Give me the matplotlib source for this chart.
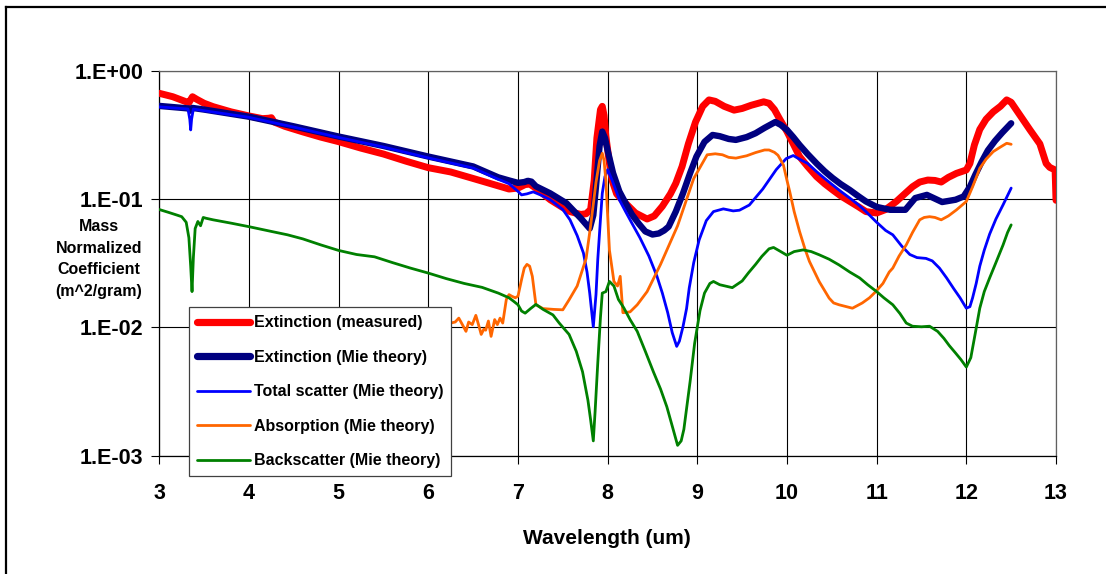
import numpy as np
import matplotlib
matplotlib.use("Agg")
import matplotlib.pyplot as plt
from matplotlib.lines import Line2D
from matplotlib.ticker import FixedLocator, FixedFormatter, NullLocator

plt.rcParams['font.family'] = ['Liberation Sans', 'DejaVu Sans']
plt.rcParams['font.weight'] = 'bold'

# ---- data -------------------------------------------------------------
ext_meas_wl = [3.00, 3.15, 3.30, 3.33, 3.37, 3.42, 3.50, 3.60, 3.80, 4.00, 4.15, 4.22, 4.25, 4.28,
               4.40, 4.60, 4.80, 5.00, 5.25, 5.50, 5.75, 6.00, 6.25, 6.50, 6.78, 6.90, 7.00, 7.08,
               7.13, 7.20, 7.36, 7.50, 7.58, 7.70, 7.76, 7.81, 7.85, 7.88, 7.92, 7.94, 7.96, 7.98,
               8.02, 8.05, 8.10, 8.16, 8.31, 8.44, 8.52, 8.61, 8.70, 8.76, 8.83, 8.90, 8.98, 9.06,
               9.13, 9.20, 9.30, 9.41, 9.50, 9.60, 9.74, 9.80, 9.86, 9.92, 10.00, 10.07, 10.14,
               10.23, 10.33, 10.42, 10.51, 10.60, 10.70, 10.80, 10.88, 11.00, 11.10, 11.22, 11.30,
               11.40, 11.48, 11.57, 11.65, 11.72, 11.80, 11.89, 12.00, 12.04, 12.09, 12.15, 12.22,
               12.30, 12.38, 12.45, 12.50, 12.60, 12.71, 12.82, 12.89, 12.93, 12.99, 13.00]
ext_meas = [0.67, 0.63, 0.575, 0.566, 0.63, 0.60, 0.56, 0.527, 0.48, 0.446, 0.425, 0.428, 0.432, 0.40,
            0.37, 0.335, 0.305, 0.281, 0.25, 0.225, 0.198, 0.176, 0.163, 0.145, 0.127, 0.12, 0.122,
            0.13, 0.131, 0.122, 0.099, 0.086, 0.080, 0.076, 0.077, 0.083, 0.14, 0.30, 0.50, 0.53,
            0.45, 0.31, 0.19, 0.14, 0.11, 0.099, 0.078, 0.070, 0.074, 0.088, 0.11, 0.133, 0.18,
            0.27, 0.40, 0.53, 0.595, 0.58, 0.53, 0.495, 0.51, 0.54, 0.575, 0.56, 0.50, 0.42, 0.337,
            0.27, 0.215, 0.18, 0.150, 0.132, 0.118, 0.106, 0.096, 0.087, 0.080, 0.078, 0.083,
            0.096, 0.108, 0.125, 0.136, 0.141, 0.14, 0.136, 0.148, 0.159, 0.169, 0.19, 0.265,
            0.35, 0.42, 0.48, 0.53, 0.595, 0.57, 0.45, 0.347, 0.27, 0.19, 0.177, 0.169, 0.098]

ext_mie_wl = [3.00, 3.33, 3.35, 3.37, 3.50, 4.00, 4.50, 5.00, 5.50, 6.00, 6.50, 6.78, 6.90, 7.00,
              7.07, 7.11, 7.15, 7.20, 7.36, 7.54, 7.70, 7.80, 7.84, 7.87, 7.91, 7.94, 7.97, 8.00,
              8.06, 8.13, 8.20, 8.27, 8.35, 8.42, 8.50, 8.57, 8.63, 8.68, 8.76, 8.84, 8.92, 8.99,
              9.08, 9.17, 9.25, 9.35, 9.43, 9.55, 9.65, 9.75, 9.87, 9.93, 10.00, 10.07, 10.14,
              10.23, 10.33, 10.42, 10.51, 10.60, 10.70, 10.80, 10.88, 11.00, 11.15, 11.32, 11.43,
              11.56, 11.73, 11.88, 11.97, 12.04, 12.10, 12.17, 12.24, 12.32, 12.40, 12.50]
ext_mie = [0.534, 0.51, 0.49, 0.515, 0.50, 0.44, 0.37, 0.308, 0.26, 0.215, 0.18, 0.148, 0.14,
           0.134, 0.136, 0.139, 0.137, 0.126, 0.111, 0.093, 0.071, 0.059, 0.075, 0.126, 0.26,
           0.337, 0.30, 0.24, 0.16, 0.115, 0.093, 0.076, 0.064, 0.056, 0.053, 0.054, 0.057,
           0.061, 0.08, 0.111, 0.16, 0.215, 0.28, 0.317, 0.31, 0.295, 0.29, 0.305, 0.327, 0.36,
           0.40, 0.38, 0.347, 0.305, 0.265, 0.225, 0.19, 0.165, 0.146, 0.131, 0.118, 0.105,
           0.096, 0.087, 0.0826, 0.0826, 0.102, 0.108, 0.095, 0.099, 0.105, 0.125, 0.155,
           0.195, 0.24, 0.285, 0.33, 0.391]

scat_wl = [3.00, 3.32, 3.34, 3.35, 3.36, 3.38, 3.50, 4.00, 4.50, 5.00, 5.50, 6.00, 6.50, 6.78,
           6.90, 7.00, 7.04, 7.10, 7.17, 7.25, 7.36, 7.50, 7.58, 7.66, 7.73, 7.77, 7.80, 7.84,
           7.87, 7.89, 7.92, 7.94, 7.97, 8.00, 8.05, 8.13, 8.20, 8.27, 8.36, 8.46, 8.55, 8.61,
           8.67, 8.72, 8.77, 8.80, 8.84, 8.88, 8.91, 8.96, 9.02, 9.10, 9.18, 9.29, 9.40, 9.47,
           9.58, 9.73, 9.88, 9.99, 10.07, 10.14, 10.23, 10.33, 10.42, 10.51, 10.60, 10.70,
           10.80, 10.88, 11.00, 11.10, 11.18, 11.28, 11.37, 11.45, 11.55, 11.62, 11.70, 11.78,
           11.86, 11.93, 12.00, 12.04, 12.07, 12.11, 12.15, 12.20, 12.26, 12.33, 12.41, 12.50]
scat = [0.525, 0.505, 0.42, 0.347, 0.42, 0.505, 0.49, 0.435, 0.365, 0.303, 0.255, 0.21, 0.175,
        0.143, 0.132, 0.115, 0.108, 0.11, 0.114, 0.108, 0.099, 0.083, 0.069, 0.052, 0.038, 0.027,
        0.0185, 0.0101, 0.018, 0.034, 0.07, 0.111, 0.15, 0.17, 0.14, 0.099, 0.08, 0.065, 0.05,
        0.036, 0.025, 0.0185, 0.013, 0.0091, 0.0071, 0.0078, 0.0101, 0.014, 0.0203, 0.032, 0.048,
        0.068, 0.08, 0.084, 0.081, 0.082, 0.09, 0.12, 0.17, 0.207, 0.219, 0.205, 0.19, 0.164,
        0.145, 0.129, 0.115, 0.102, 0.09, 0.080, 0.066, 0.057, 0.0527, 0.043, 0.037, 0.035,
        0.0345, 0.033, 0.029, 0.0243, 0.02, 0.017, 0.0141, 0.0145, 0.017, 0.022, 0.030, 0.04,
        0.0534, 0.07, 0.0904, 0.122]

absn_wl = [6.25, 6.30, 6.34, 6.38, 6.42, 6.45, 6.49, 6.53, 6.56, 6.59, 6.62, 6.64, 6.67, 6.70,
           6.74, 6.77, 6.80, 6.83, 6.87, 6.90, 6.93, 6.97, 7.00, 7.04, 7.07, 7.10, 7.13, 7.16,
           7.20, 7.28, 7.40, 7.50, 7.57, 7.66, 7.76, 7.81, 7.87, 7.91, 7.94, 7.96, 7.98, 8.02,
           8.07, 8.11, 8.14, 8.17, 8.25, 8.33, 8.44, 8.59, 8.78, 8.96, 9.11, 9.20, 9.28, 9.35,
           9.43, 9.55, 9.65, 9.75, 9.80, 9.86, 9.90, 9.96, 10.00, 10.03, 10.08, 10.14, 10.20,
           10.25, 10.36, 10.47, 10.52, 10.58, 10.73, 10.84, 10.92, 10.99, 11.07, 11.14, 11.18,
           11.25, 11.33, 11.40, 11.48, 11.53, 11.59, 11.65, 11.72, 11.80, 11.89, 12.00, 12.07,
           12.15, 12.22, 12.30, 12.38, 12.45, 12.50]
absn = [0.0108, 0.011, 0.0118, 0.0105, 0.0093, 0.011, 0.0105, 0.0124, 0.0105, 0.0088, 0.0097,
        0.0095, 0.0112, 0.0085, 0.0115, 0.0105, 0.0118, 0.0108, 0.0165, 0.018, 0.0175, 0.017,
        0.0175, 0.0236, 0.029, 0.031, 0.030, 0.025, 0.0150, 0.014, 0.0138, 0.0137, 0.0164,
        0.021, 0.0345, 0.062, 0.135, 0.2, 0.228, 0.2, 0.14, 0.04, 0.0228, 0.021, 0.025, 0.013,
        0.0132, 0.015, 0.019, 0.031, 0.062, 0.145, 0.222, 0.226, 0.222, 0.212, 0.209, 0.218,
        0.231, 0.242, 0.242, 0.232, 0.22, 0.185, 0.14, 0.115, 0.08, 0.056, 0.041, 0.0327,
        0.0227, 0.0169, 0.0155, 0.015, 0.0141, 0.0155, 0.017, 0.019, 0.022, 0.027, 0.029,
        0.036, 0.044, 0.055, 0.069, 0.072, 0.073, 0.072, 0.069, 0.074, 0.0825, 0.096, 0.125,
        0.174, 0.205, 0.235, 0.255, 0.273, 0.268]

back_wl = [3.00, 3.10, 3.20, 3.25, 3.30, 3.33, 3.35, 3.365, 3.38, 3.40, 3.43, 3.46, 3.49, 3.52,
           3.60, 3.80, 4.00, 4.25, 4.43, 4.60, 4.80, 5.00, 5.20, 5.40, 5.60, 5.80, 6.00, 6.20,
           6.40, 6.60, 6.78, 6.90, 6.95, 7.00, 7.04, 7.08, 7.14, 7.20, 7.28, 7.39, 7.46, 7.57,
           7.65, 7.72, 7.78, 7.81, 7.84, 7.86, 7.89, 7.92, 7.94, 7.98, 8.02, 8.07, 8.12, 8.18,
           8.25, 8.33, 8.42, 8.51, 8.59, 8.66, 8.72, 8.78, 8.82, 8.85, 8.92, 8.97, 9.03, 9.08,
           9.14, 9.18, 9.25, 9.39, 9.50, 9.57, 9.65, 9.72, 9.80, 9.85, 9.93, 10.00, 10.08, 10.18,
           10.27, 10.36, 10.47, 10.58, 10.70, 10.81, 10.90, 11.00, 11.08, 11.18, 11.26, 11.33,
           11.40, 11.50, 11.59, 11.68, 11.75, 11.81, 11.88, 11.94, 12.00, 12.05, 12.10, 12.15,
           12.20, 12.26, 12.33, 12.41, 12.46, 12.50]
back = [0.083, 0.079, 0.075, 0.073, 0.066, 0.050, 0.03, 0.019, 0.035, 0.059, 0.067, 0.062, 0.072,
        0.071, 0.069, 0.065, 0.061, 0.056, 0.0527, 0.049, 0.044, 0.0398, 0.037, 0.0355, 0.032,
        0.029, 0.0265, 0.024, 0.022, 0.0205, 0.0185, 0.017, 0.016, 0.015, 0.0134, 0.0129, 0.014,
        0.0151, 0.0138, 0.0125, 0.0108, 0.0088, 0.0065, 0.0045, 0.0027, 0.0019, 0.0013, 0.0022,
        0.0053, 0.012, 0.0185, 0.019, 0.0228, 0.021, 0.0165, 0.0142, 0.0115, 0.0093, 0.0065,
        0.0045, 0.0033, 0.0024, 0.0017, 0.0012, 0.0013, 0.0016, 0.0038, 0.0075, 0.0135,
        0.0185, 0.022, 0.0228, 0.0215, 0.0204, 0.023, 0.0266, 0.031, 0.0358, 0.041, 0.042,
        0.039, 0.0365, 0.039, 0.0402, 0.039, 0.0368, 0.034, 0.0307, 0.027, 0.0243, 0.0215,
        0.019, 0.017, 0.015, 0.0128, 0.0108, 0.0102, 0.0101, 0.0102, 0.0093, 0.0082, 0.0072,
        0.0063, 0.0056, 0.0049, 0.0058, 0.009, 0.0141, 0.019, 0.0243, 0.032, 0.044, 0.055, 0.063]

series_labels = ["Extinction (measured)", "Extinction (Mie theory)", "Total scatter (Mie theory)",
                 "Absorption (Mie theory)", "Backscatter (Mie theory)"]
x_ticks = [3, 4, 5, 6, 7, 8, 9, 10, 11, 12, 13]
y_ticks = [1e-3, 1e-2, 1e-1, 1e0]
y_tick_labels = ["1.E-03", "1.E-02", "1.E-01", "1.E+00"]

# ---- figure -----------------------------------------------------------
W, H = 1106, 574
fig = plt.figure(figsize=(W / 100, H / 100), dpi=100)
fig.patch.set_facecolor("white")

ax_l, ax_r, ax_t, ax_b = 159.3, 1056.0, 71.0, 455.5
ax = fig.add_axes([ax_l / W, 1 - ax_b / H, (ax_r - ax_l) / W, (ax_b - ax_t) / H])

series = [
    (ext_meas_wl, ext_meas, "#FF0000", 5.0),
    (ext_mie_wl, ext_mie, "#000080", 4.6),
    (scat_wl, scat, "#0000FF", 2.0),
    (absn_wl, absn, "#FF6600", 2.0),
    (back_wl, back, "#008000", 2.0),
]
handles = []
for (wl, val, col, lw), lab in zip(series, series_labels):
    h, = ax.plot(wl, val, color=col, lw=lw, solid_joinstyle="round",
                 solid_capstyle="round", label=lab, zorder=3)
    handles.append(h)

ax.set_yscale("log")
ax.set_xlim(3, 13)
ax.set_ylim(1e-3, 1)
ax.xaxis.set_major_locator(FixedLocator(x_ticks))
ax.yaxis.set_major_locator(FixedLocator(y_ticks))
ax.yaxis.set_major_formatter(FixedFormatter(y_tick_labels))
ax.yaxis.set_minor_locator(NullLocator())
ax.grid(True, which="major", color="black", lw=0.8, zorder=1)
ax.set_axisbelow(True)

for s in ax.spines.values():
    s.set_color("#606060")
    s.set_linewidth(0.9)
ax.spines["left"].set_color("black")
ax.spines["bottom"].set_color("black")

ax.tick_params(axis="both", which="major", direction="out", length=5.5, width=0.8,
               color="black", labelsize=15.5)
ax.tick_params(axis="y", pad=6)
ax.tick_params(axis="x", pad=14.5)
for lab in ax.get_xticklabels() + ax.get_yticklabels():
    lab.set_fontweight("bold")

# axis titles
fig.text(607 / W, 1 - 538 / H, "Wavelength (um)", ha="center", va="center",
         fontsize=15, fontweight="bold")
fig.text(99 / W, 1 - 259 / H, "Mass\nNormalized\nCoefficient\n(m^2/gram)", ha="center",
         va="center", multialignment="center", fontsize=11.5, fontweight="bold",
         linespacing=1.55)

# legend
leg_handles = [Line2D([0], [0], color=h.get_color(), lw=(5.2 if i < 2 else 2.0),
                      solid_capstyle="round") for i, h in enumerate(handles)]
leg = ax.legend(leg_handles, series_labels, loc="upper left",
                bbox_to_anchor=((189.3 - ax_l) / (ax_r - ax_l), (ax_b - 307.3) / (ax_b - ax_t)),
                borderaxespad=0, frameon=True, fancybox=False, framealpha=1,
                edgecolor="#404040", prop={"weight": "bold", "size": 11.5},
                handlelength=3.3, handletextpad=0.25, labelspacing=1.22, borderpad=0.5)
leg.get_frame().set_linewidth(0.9)
leg.set_zorder(5)

# outer chart-area frame (left and top edges)
fig.add_artist(Line2D([5.8 / W, 5.8 / W], [0, 1 - 7.3 / H], transform=fig.transFigure,
                      color="black", lw=1.6))
fig.add_artist(Line2D([5.8 / W, 1], [1 - 7.3 / H, 1 - 7.3 / H], transform=fig.transFigure,
                      color="black", lw=1.6))

fig.savefig("out.png", dpi=100, facecolor="white")
